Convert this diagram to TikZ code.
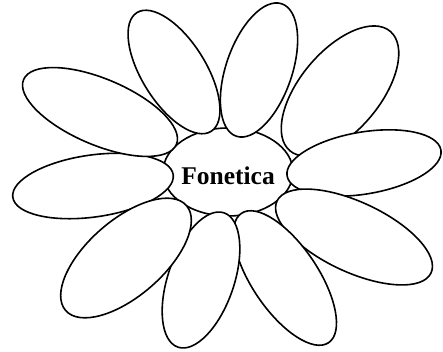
\documentclass[tikz,border=0pt]{standalone}
\usepackage{fontspec}
\setmainfont{Liberation Serif}
\usepackage{tikz}
\usetikzlibrary{shapes.geometric}

\tikzset{
  petal/.style={ellipse,draw,fill=white,line width=1.6pt,inner sep=0pt},
}

\begin{document}
\begin{tikzpicture}[x=1pt,y=-1pt]
  \useasboundingbox (0,0) rectangle (443,352);
  \node[petal,minimum width=130pt,minimum height=88pt] (core) at (228,172) {};
  % petals, left round to right
  \node[petal,minimum width=162pt,minimum height=62pt,rotate=8]   (p9)  at (93,186)  {};
  \node[petal,minimum width=166pt,minimum height=66pt,rotate=-23] (p10) at (100,112) {};
  \node[petal,minimum width=140pt,minimum height=64pt,rotate=-58] (p1)  at (174,72)  {};
  \node[petal,minimum width=140pt,minimum height=66pt,rotate=71]  (p2)  at (259,70)  {};
  \node[petal,minimum width=156pt,minimum height=80pt,rotate=50]  (p3)  at (340,91)  {};
  \node[petal,minimum width=156pt,minimum height=62pt,rotate=9.5] (p4)  at (364,163) {};
  \node[petal,minimum width=170pt,minimum height=70pt,rotate=-25] (p5)  at (354,237) {};
  \node[petal,minimum width=156pt,minimum height=66pt,rotate=-56] (p6)  at (285,278) {};
  \node[petal,minimum width=142pt,minimum height=66pt,rotate=71]  (p7)  at (201,280) {};
  \node[petal,minimum width=160pt,minimum height=76pt,rotate=41]  (p8)  at (126,258) {};
  \node[font=\fontsize{25.5}{30}\selectfont\bfseries] (name) at (228,176) {Fonetica};
\end{tikzpicture}
\end{document}
